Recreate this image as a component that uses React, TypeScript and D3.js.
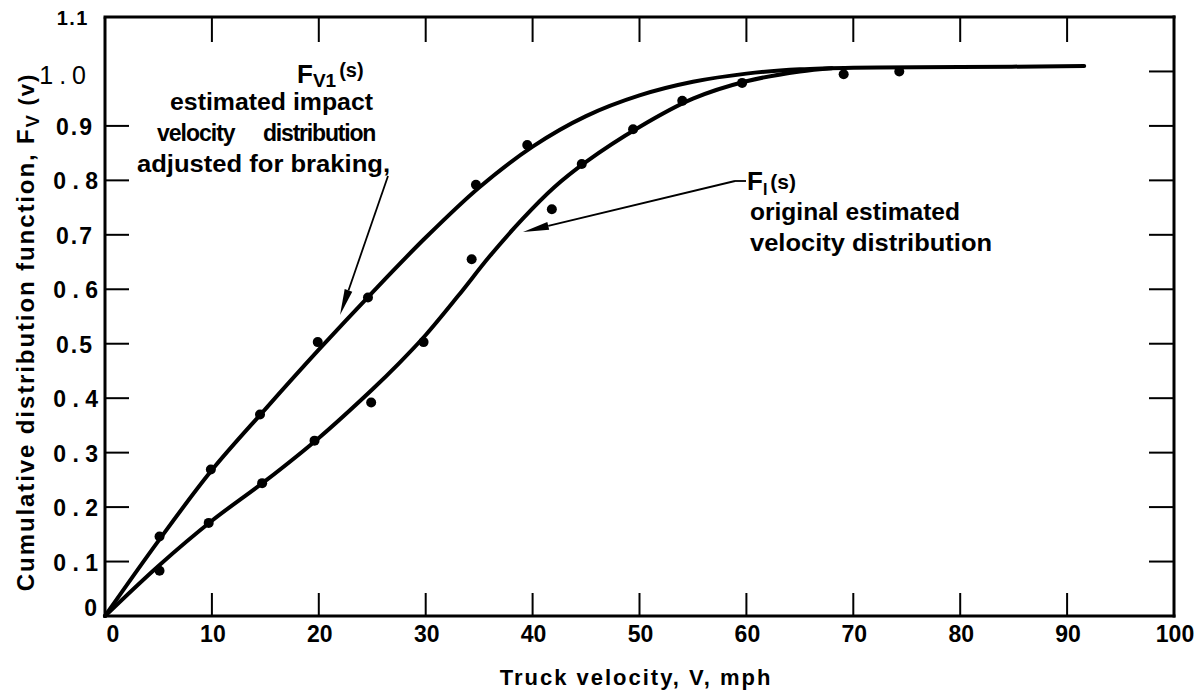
import React from "react";
import * as d3 from "d3";

// ---- Data ----
const xTickValues = [10, 20, 30, 40, 50, 60, 70, 80, 90];
const xLabelValues = [0, 10, 20, 30, 40, 50, 60, 70, 80, 90, 100];
const xLabelTexts = ["0", "10", "20", "30", "40", "50", "60", "70", "80", "90", "100"];
const yLabelValues = [0, 0.1, 0.2, 0.3, 0.4, 0.5, 0.6, 0.7, 0.8, 0.9, 1.0, 1.1];
const yLabelTexts = ["0", "0 . 1", "0 . 2", "0 . 3", "0 . 4", "0.5", "0 . 6", "0.7", "0 . 8", "0.9", "1.0", "1.1"];
const leftTickValues = [0.1, 0.2, 0.3, 0.4, 0.5, 0.6, 0.7, 0.8, 0.9];
const rightTickValues = [0.1, 0.2, 0.3, 0.4, 0.5, 0.6, 0.7, 0.8, 0.9, 1.0];

// F_V1(s): estimated impact velocity distribution adjusted for braking (fitted curve)
const fv1CurveV = [0, 5, 10, 15, 20, 25, 30, 35, 40, 45, 50, 55, 60, 65, 70, 80, 91.6];
const fv1CurveF = [0, 0.138, 0.268, 0.38, 0.489, 0.594, 0.695, 0.787, 0.862, 0.918, 0.956, 0.981, 0.996, 1.004, 1.007, 1.008, 1.01];
// F_I(s): original estimated velocity distribution (fitted curve)
const fiCurveV = [0, 5, 10, 15, 20, 25, 27.5, 30, 33, 36, 39, 42, 45, 50, 55, 60, 65, 68];
const fiCurveF = [0, 0.092, 0.175, 0.248, 0.327, 0.416, 0.464, 0.516, 0.587, 0.661, 0.728, 0.787, 0.834, 0.898, 0.95, 0.982, 1.0, 1.006];

// Observed data points
const fv1PointV = [5.1, 9.9, 14.5, 19.9, 24.6, 34.7, 39.5];
const fv1PointF = [0.146, 0.269, 0.37, 0.503, 0.585, 0.792, 0.865];
const fiPointV = [5.1, 9.7, 14.7, 19.6, 24.9, 29.8, 34.3, 41.8, 44.6, 49.4, 54.0, 59.6, 69.1, 74.3];
const fiPointF = [0.083, 0.171, 0.244, 0.322, 0.392, 0.503, 0.655, 0.747, 0.83, 0.894, 0.946, 0.979, 0.995, 1.0];

const FONT = "'Liberation Sans', Arial, Helvetica, sans-serif";

function Arrow({ x1, y1, x2, y2, len = 22, half = 4 }: any) {
  const dx = x2 - x1;
  const dy = y2 - y1;
  const d = Math.hypot(dx, dy);
  const ux = dx / d;
  const uy = dy / d;
  const bx = x2 - ux * len;
  const by = y2 - uy * len;
  const px = -uy * half;
  const py = ux * half;
  return (
    <g>
      <line x1={x1} y1={y1} x2={bx} y2={by} stroke="#000" strokeWidth={1.8} />
      <polygon points={`${x2},${y2} ${bx + px},${by + py} ${bx - px},${by - py}`} fill="#000" />
    </g>
  );
}

export default function App() {
  const W = 1204;
  const H = 697;
  const x = d3.scaleLinear().domain([0, 100]).range([105, 1174]);
  const y = d3.scaleLinear().domain([0, 1.1]).range([616, 17]);

  const mkPath = (vs: number[], fs: number[]) =>
    d3
      .line<[number, number]>()
      .x((d) => x(d[0]))
      .y((d) => y(d[1]))
      .curve(d3.curveCatmullRom.alpha(0.5))(vs.map((v, i) => [v, fs[i]]) as [number, number][]) || "";

  const fv1Path = mkPath(fv1CurveV, fv1CurveF);
  const fiPath = mkPath(fiCurveV, fiCurveF);

  const x0 = x(0);
  const x1 = x(100);
  const yB = y(0);
  const yT = y(1.1);

  const ann = { fontFamily: FONT, fontWeight: "bold" as const, fill: "#000" };

  return (
    <svg width={W} height={H} viewBox={`0 0 ${W} ${H}`} style={{ display: "block", position: "absolute", left: 0, top: 0, background: "#fff" }}>
      <rect x={0} y={0} width={W} height={H} fill="#fff" />
      {/* frame */}
      <g stroke="#000" strokeWidth={3} fill="none" strokeLinecap="square">
        <line x1={x0} y1={yT} x2={x1} y2={yT} />
        <line x1={x0} y1={yB} x2={x1} y2={yB} />
        <line x1={x0} y1={yT + 2} x2={x0} y2={yB} />
        <line x1={x1} y1={yT} x2={x1} y2={yB} />
      </g>
      {/* ticks */}
      <g stroke="#000" strokeWidth={2}>
        {xTickValues.map((v) => (
          <line key={"tb" + v} x1={x(v)} y1={yB} x2={x(v)} y2={yB - 23} />
        ))}
        {xTickValues.map((v) => (
          <line key={"tt" + v} x1={x(v)} y1={yT} x2={x(v)} y2={yT + 25} />
        ))}
        {leftTickValues.map((v) => (
          <line key={"tl" + v} x1={x0} y1={y(v)} x2={x0 + 24} y2={y(v)} />
        ))}
        {rightTickValues.map((v) => (
          <line key={"tr" + v} x1={x1} y1={y(v)} x2={x1 - 25} y2={y(v)} />
        ))}
      </g>
      {/* curves */}
      <path d={fv1Path} fill="none" stroke="#000" strokeWidth={4} strokeLinecap="round" strokeLinejoin="round" />
      <path d={fiPath} fill="none" stroke="#000" strokeWidth={4} strokeLinecap="round" strokeLinejoin="round" />
      {/* points */}
      {fv1PointV.map((v, i) => (
        <circle key={"p1" + i} cx={x(v)} cy={y(fv1PointF[i])} r={5} fill="#000" />
      ))}
      {fiPointV.map((v, i) => (
        <circle key={"p2" + i} cx={x(v)} cy={y(fiPointF[i])} r={5} fill="#000" />
      ))}

      {/* y tick labels */}
      <g fontFamily={FONT} fontWeight="bold" fontSize={23} fill="#000">
        {yLabelValues.map((v, i) => {
          const t = yLabelTexts[i];
          if (t === "1.0") {
            return (
              <text key={"yl" + i} x={92} y={y(v) + 13} textAnchor="end" fontWeight="normal" fontSize={25} letterSpacing={6}>
                {t}
              </text>
            );
          }
          if (t === "1.1") {
            return (
              <text key={"yl" + i} x={89} y={y(v) + 8} textAnchor="end" fontSize={20} letterSpacing={1.5}>
                {t}
              </text>
            );
          }
          if (t === "0") {
            return (
              <text key={"yl" + i} x={97} y={y(v) + 0} textAnchor="end">
                {t}
              </text>
            );
          }
          return (
            <text key={"yl" + i} x={t.length > 3 ? 98 : 94} y={y(v) + 9} textAnchor="end" letterSpacing={t.length > 3 ? 0 : 2}>
              {t}
            </text>
          );
        })}
      </g>
      {/* x tick labels */}
      <g fontFamily={FONT} fontWeight="bold" fontSize={23} fill="#000" textAnchor="middle">
        {xLabelValues.map((v, i) => (
          <text key={"xl" + i} x={x(v) + (v === 0 ? 8 : 1)} y={642}>
            {xLabelTexts[i]}
          </text>
        ))}
      </g>
      {/* axis titles */}
      <text x={636} y={685} textAnchor="middle" fontFamily={FONT} fontWeight="bold" fontSize={22} letterSpacing={2}>
        Truck velocity, V, mph
      </text>
      <text transform="translate(34,332) rotate(-90)" textAnchor="middle" fontFamily={FONT} fontWeight="bold" fontSize={24} letterSpacing={1.9}>
        <tspan>Cumulative distribution function, F</tspan>
        <tspan fontSize={18} dy={5}>V</tspan>
        <tspan fontSize={22} dy={-5}> (v)</tspan>
      </text>

      {/* annotation F_V1 */}
      <g {...ann}>
        <text x={297} y={83}>
          <tspan fontSize={26}>F</tspan>
          <tspan fontSize={19} dy={4}>V1</tspan>
          <tspan fontSize={20} dx={3} dy={-10}>(s)</tspan>
        </text>
        <text x={170} y={110} fontSize={23} textLength={203} lengthAdjust="spacingAndGlyphs">estimated impact</text>
        <text x={157} y={141} fontSize={23} letterSpacing={-1}>velocity</text>
        <text x={263} y={141} fontSize={23} letterSpacing={-1.2}>distribution</text>
        <text x={137} y={172} fontSize={23} textLength={253} lengthAdjust="spacingAndGlyphs">adjusted for braking,</text>
      </g>
      <Arrow x1={388} y1={176} x2={340} y2={315} len={26} half={4} />

      {/* annotation F_I */}
      <g {...ann}>
        <text x={747} y={190}>
          <tspan fontSize={26}>F</tspan>
          <tspan fontSize={16} dy={5}>I</tspan>
          <tspan fontSize={21} dx={3} dy={-6}>(s)</tspan>
        </text>
        <text x={750} y={220} fontSize={24} textLength={210} lengthAdjust="spacingAndGlyphs">original estimated</text>
        <text x={750} y={251} fontSize={24} textLength={242} lengthAdjust="spacingAndGlyphs">velocity  distribution</text>
      </g>
      <line x1={735} y1={181} x2={746} y2={181} stroke="#000" strokeWidth={1.8} />
      <Arrow x1={735} y1={181} x2={523} y2={232} len={26} half={4} />
    </svg>
  );
}
